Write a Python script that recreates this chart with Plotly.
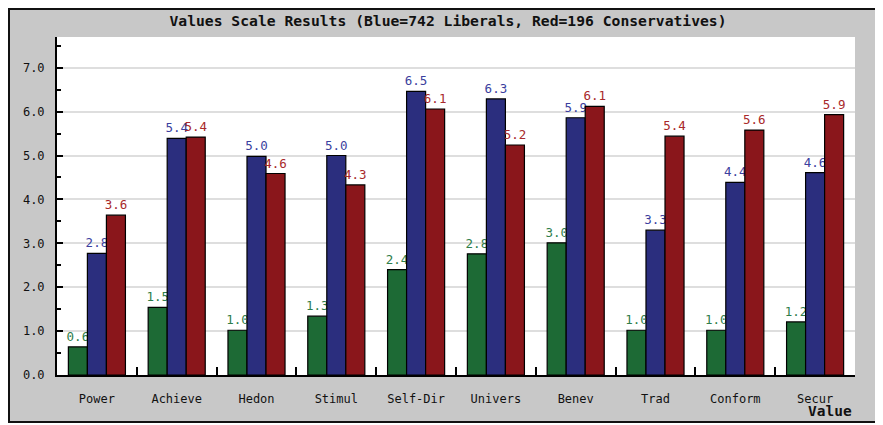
import plotly.graph_objects as go

categories = ["Power", "Achieve", "Hedon", "Stimul", "Self-Dir", "Univers", "Benev", "Trad", "Conform", "Secur"]
green_vals = [0.64, 1.54, 1.02, 1.34, 2.40, 2.76, 3.01, 1.02, 1.02, 1.21]
blue_vals = [2.77, 5.39, 4.98, 5.00, 6.46, 6.29, 5.86, 3.30, 4.39, 4.61]
red_vals = [3.64, 5.42, 4.59, 4.33, 6.06, 5.24, 6.12, 5.44, 5.58, 5.93]

title_text = "Values Scale Results (Blue=742 Liberals, Red=196 Conservatives)"
x_title = "Value"

OFF = 8  # page body margin
W, H = 875, 417
L, R, T, B = 49, 28, 29, 50
pw, ph = W - L - R, H - T - B

def px_x(p):
    return (p - OFF - L) / pw

def px_y(p):
    return (H - B - (p - OFF)) / ph

FONT = "DejaVu Sans Mono"

series = [
    (green_vals, "#1d6a35", "#2e7d4a"),
    (blue_vals, "#2b2e7e", "#3b3f9e"),
    (red_vals, "#8a161b", "#a8292b"),
]

fig = go.Figure()
for vals, col, tcol in series:
    fig.add_trace(go.Bar(
        x=categories, y=vals,
        marker=dict(color=col, line=dict(color="black", width=1.2)),
        texttemplate="%{y:.1f}", textposition="outside",
        textfont=dict(family=FONT, size=12.5, color=tcol),
        constraintext="none", cliponaxis=False,
        hoverinfo="skip",
    ))

fig.update_layout(
    width=W, height=H,
    margin=dict(l=L, r=R, t=T, b=B),
    paper_bgcolor="white", plot_bgcolor="white",
    barmode="group", bargap=0.285, bargroupgap=0,
    showlegend=False,
    font=dict(family=FONT, size=12, color="#111111"),
    title=dict(text="<b>" + title_text + "</b>", x=px_x(448), xref="paper", xanchor="center",
               y=1 - (21 - OFF) / H, yanchor="middle",
               font=dict(family=FONT, size=14.7, color="#111111")),
    shapes=[
        dict(type="rect", xref="paper", yref="paper", layer="below",
             x0=px_x(OFF + 1), x1=px_x(W + OFF + 10), y0=px_y(422), y1=px_y(OFF + 1),
             fillcolor="#c8c8c8", line=dict(color="#111111", width=2)),
        dict(type="rect", xref="paper", yref="paper", layer="below",
             x0=0, x1=1, y0=0, y1=1, fillcolor="white", line=dict(width=0)),
    ],
    annotations=[
        dict(text="<b>" + x_title + "</b>", xref="paper", yref="paper",
             x=px_x(854), y=px_y(411), xanchor="right", yanchor="middle",
             showarrow=False, font=dict(family=FONT, size=14.5, color="#111111")),
    ],
)

fig.update_xaxes(
    showline=True, linecolor="black", linewidth=2,
    ticks="inside", tickson="boundaries", ticklen=8, tickcolor="black", tickwidth=1.5,
    ticklabelstandoff=12,
    tickfont=dict(family=FONT, size=12, color="#111111"),
    showgrid=False, zeroline=False,
)
fig.update_yaxes(
    range=[0, 7.7], dtick=1, tickformat=".1f",
    showline=True, linecolor="black", linewidth=2,
    ticks="inside", ticklen=6, tickcolor="black", tickwidth=1.5,
    minor=dict(dtick=0.5, ticks="inside", ticklen=4, tickcolor="black", tickwidth=1.5, showgrid=False),
    ticklabelstandoff=8,
    tickfont=dict(family=FONT, size=12, color="#111111"),
    showgrid=True, gridcolor="#dedede", gridwidth=1.5,
    zeroline=False,
)

fig.write_html("out.html")
